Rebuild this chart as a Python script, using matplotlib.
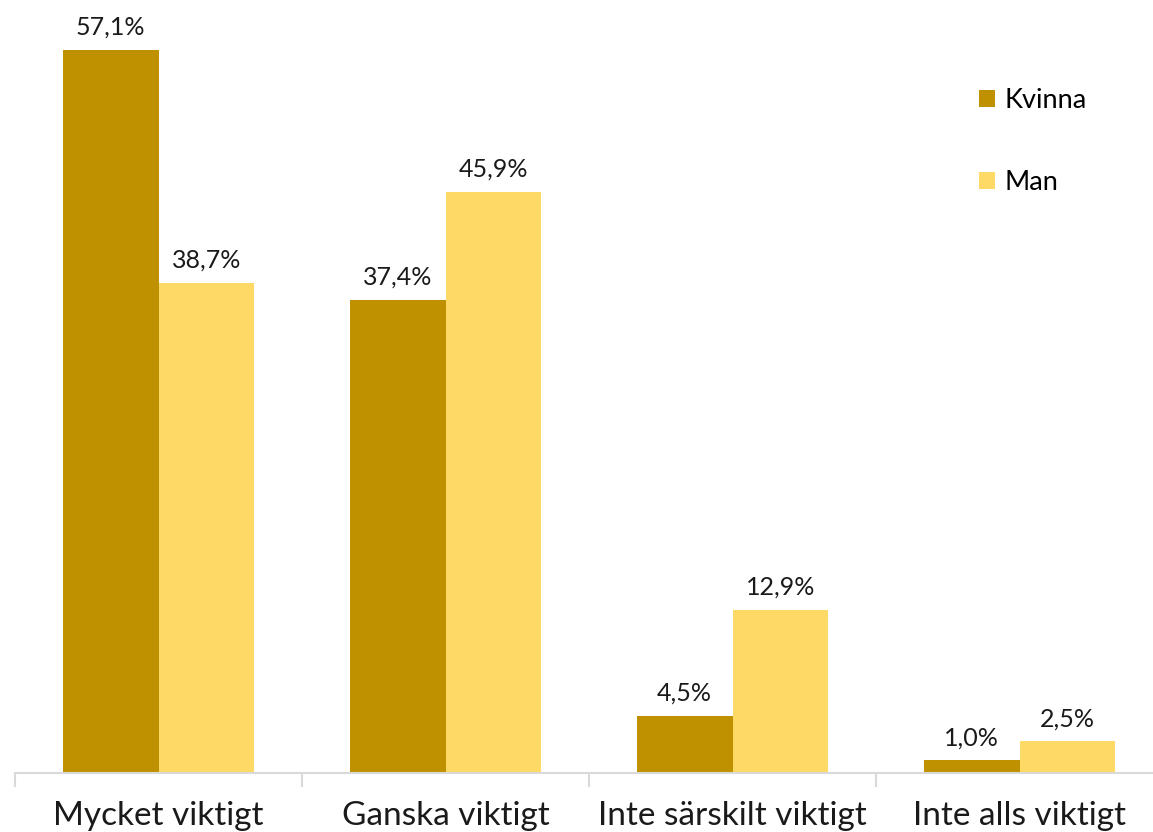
import matplotlib
matplotlib.use("Agg")
import matplotlib.pyplot as plt
import numpy as np

categories = ["Mycket viktigt", "Ganska viktigt", "Inte särskilt viktigt", "Inte alls viktigt"]
kvinna = [57.1, 37.4, 4.5, 1.0]
man = [38.7, 45.9, 12.9, 2.5]
series_names = ["Kvinna", "Man"]
colors = ["#BF9000", "#FFD966"]

plt.rcParams['font.family'] = ['Lato', 'DejaVu Sans']

fig = plt.figure(figsize=(11.53, 8.32), dpi=100)
ax = fig.add_axes([15/1153, 59/832, 1148/1153, 759.6/832])

x = np.arange(len(categories))
w = 0.334
b1 = ax.bar(x - w/2, kvinna, w, color=colors[0], label=series_names[0])
b2 = ax.bar(x + w/2, man, w, color=colors[1], label=series_names[1])

def fmt(v):
    return f"{v:.1f}".replace(".", ",") + "%"

for bars, vals in ((b1, kvinna), (b2, man)):
    for r, v in zip(bars, vals):
        ax.annotate(fmt(v), (r.get_x() + r.get_width()/2, v), xytext=(0, 8),
                    textcoords="offset points", ha="center", va="bottom",
                    fontsize=18, color="#1a1a1a")

ax.set_xlim(-0.5, 3.5)
ax.set_ylim(0, 60)
ax.set_yticks([])
for s in ["top", "right", "left"]:
    ax.spines[s].set_visible(False)
ax.spines["bottom"].set_color("#d9d9d9")
ax.spines["bottom"].set_linewidth(1.5)

ax.set_xticks(x)
ax.set_xticklabels(categories, fontsize=24, color="#1a1a1a")
ax.tick_params(axis="x", length=0, pad=20)
ax.set_xticks(np.arange(-0.5, 4.0, 1.0), minor=True)
ax.tick_params(axis="x", which="minor", length=10, width=1.5, color="#d9d9d9")

leg = ax.legend(loc="upper left", bbox_to_anchor=(953/1148, 1 - (77-13)/759.6),
                frameon=False, fontsize=19.5, handlelength=0.6, handleheight=0.6,
                labelspacing=2.1, handletextpad=0.35, borderaxespad=0)

fig.savefig("out.png", dpi=100)
